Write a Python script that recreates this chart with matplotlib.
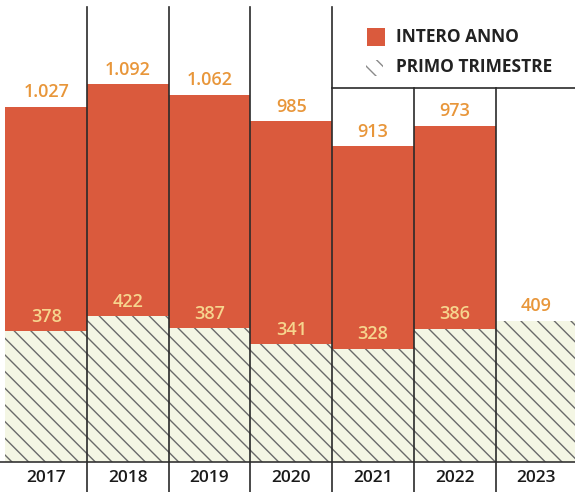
import matplotlib
matplotlib.use("Agg")
import matplotlib.pyplot as plt
from matplotlib.patches import Rectangle

years = ["2017", "2018", "2019", "2020", "2021", "2022", "2023"]
full_year = [1027, 1092, 1062, 985, 913, 973, None]
first_quarter = [378, 422, 387, 341, 328, 386, 409]
full_labels = ["1.027", "1.092", "1.062", "985", "913", "973", None]
fq_labels = ["378", "422", "387", "341", "328", "386", "409"]

RED = "#DA5A3D"
ORANGE = "#E8963A"
CREAM = "#F6D58E"
HATCH_FACE = "#F4F6E4"
HATCH_EDGE = "#6A6A6A"
FONT = "Open Sans"

plt.rcParams["hatch.linewidth"] = 1.0

fig = plt.figure(figsize=(5.75, 4.92), dpi=100)
ax = fig.add_axes([0, 30 / 492, 1, 462 / 492])
ax.set_xlim(-0.565, 6.473)
ax.set_ylim(0, 1336)
ax.axis("off")

x = list(range(len(years)))
for i in x:
    if full_year[i] is not None:
        ax.bar(i, full_year[i], width=1.0, color=RED, linewidth=0)
    ax.bar(i, first_quarter[i], width=1.0, facecolor=HATCH_FACE,
           edgecolor=HATCH_EDGE, hatch="\\\\", linewidth=0)

for i in x:
    if full_year[i] is not None:
        ax.annotate(full_labels[i], (i, full_year[i]), xytext=(0, 4),
                    textcoords="offset points", ha="center", va="bottom",
                    color=ORANGE, fontsize=13, fontweight="semibold", family=FONT)
        ax.annotate(fq_labels[i], (i, first_quarter[i]), xytext=(0, 4),
                    textcoords="offset points", ha="center", va="bottom",
                    color=CREAM, fontsize=13, fontweight="semibold", family=FONT)
    else:
        ax.annotate(fq_labels[i], (i, first_quarter[i]), xytext=(0, 4),
                    textcoords="offset points", ha="center", va="bottom",
                    color=ORANGE, fontsize=13, fontweight="semibold", family=FONT)
    ax.text(i, -16 / 0.3457, years[i], ha="center", va="center",
            fontsize=12.5, fontweight="semibold", family=FONT, color="#1a1a1a",
            clip_on=False)

# baseline
ax.axhline(0, color="#333333", linewidth=1.2, clip_on=False)

# separators
line_col = "#2a2a2a"
for i in range(6):
    top = 0.985 if i < 4 else (462 - 88) / 462
    ax.axvline(i + 0.5, ymin=-0.065, ymax=top, color=line_col,
               linewidth=1.2, clip_on=False)
# horizontal legend box line
y88 = (462 - 88) / 0.3457
ax.plot([3.5, 6.6], [y88, y88], color=line_col, linewidth=1.2, clip_on=False)

# legend
fig.patches.append(Rectangle((367 / 575, 1 - 46 / 492), 18 / 575, 18 / 492,
                             transform=fig.transFigure, facecolor=RED,
                             linewidth=0))
fig.patches.append(Rectangle((366 / 575, 1 - 76 / 492), 17 / 575, 16 / 492,
                             transform=fig.transFigure, facecolor="white",
                             edgecolor="#8a8a8a", hatch="\\\\", linewidth=0))
fig.text(396 / 575, 1 - 37 / 492, "INTERO ANNO", ha="left", va="center",
         fontsize=12.5, fontweight="bold", family=FONT, color="#222222")
fig.text(396 / 575, 1 - 67 / 492, "PRIMO TRIMESTRE", ha="left", va="center",
         fontsize=12.5, fontweight="bold", family=FONT, color="#222222")

fig.savefig("out.png", dpi=100)
